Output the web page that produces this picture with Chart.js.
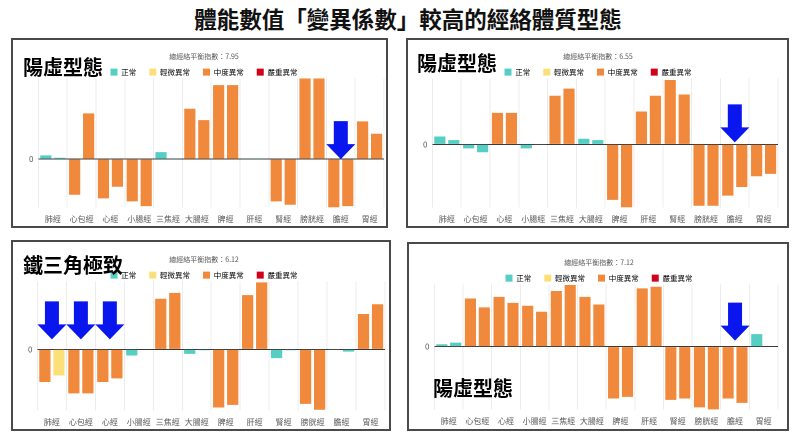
<!DOCTYPE html>
<html>
<head>
<meta charset="utf-8">
<script src="https://cdn.jsdelivr.net/npm/chart.js@4.4.1/dist/chart.umd.min.js"></script>
<style>
  body { margin: 0; width: 800px; height: 442px; background: #fff; position: relative; overflow: hidden;
         font-family: "Noto Sans CJK TC", "Noto Sans", sans-serif; }
  .heading { position: absolute; left: 0; width: 816px; top: 3px; text-align: center;
             font-size: 22.5px; font-weight: bold; color: #111; line-height: 30px; }
  .panel { position: absolute; border: 2px solid #4a4a4a; box-sizing: border-box; }
  .panel canvas { position: absolute; left: 0; top: 0; }
  .tag { position: absolute; font-size: 20px; font-weight: bold; color: #000; line-height: 24px; white-space: nowrap; }
</style>
</head>
<body>
<div class="heading">體能數值「變異係數」較高的經絡體質型態</div>

<div class="panel" style="left:11px;top:38px;width:377px;height:190px"><canvas id="c1"></canvas></div>
<div class="panel" style="left:406px;top:38px;width:383px;height:190px"><canvas id="c2"></canvas></div>
<div class="panel" style="left:11px;top:240px;width:380px;height:191px"><canvas id="c3"></canvas></div>
<div class="panel" style="left:407px;top:242px;width:382px;height:189px"><canvas id="c4"></canvas></div>

<div class="tag" style="left:23px;top:55px">陽虛型態</div>
<div class="tag" style="left:417px;top:51px">陽虛型態</div>
<div class="tag" style="left:23px;top:253px">鐵三角極致</div>
<div class="tag" style="left:433px;top:376px">陽虛型態</div>

<script>
// 經絡 (12 categories, each with left / right reading)
const meridians = ['肺經', '心包經', '心經', '小腸經', '三焦經', '大腸經', '脾經', '肝經', '腎經', '膀胱經', '膽經', '胃經'];
const statusNames = ['正常', '輕微異常', '中度異常', '嚴重異常'];
const statusColors = ['#55cec4', '#fbe07a', '#f0893b', '#d0021b'];

// top-left
const p1Index = '7.95';
const p1Left = [1.1, -10.7, -11.8, -12.7, 2.1, 15.1, 22.2, 0.2, -12.7, 24.2, -14.5, 11.3];
const p1Right = [0.4, 13.7, -8.3, -14.1, 0.2, 11.7, 22.2, 0.2, -13.7, 24.2, -14.1, 7.6];
const p1LeftStatus = [0, 2, 2, 2, 0, 2, 2, 0, 2, 2, 2, 2];
const p1RightStatus = [0, 2, 2, 2, 0, 2, 2, 0, 2, 2, 2, 2];
const p1Arrows = [10];

// top-right
const p2Index = '6.55';
const p2Left = [2.4, -1.2, 9.6, -1.2, 14.8, 1.7, -16.9, 10.0, 19.6, -18.7, -15.6, -9.7];
const p2Right = [1.3, -2.4, 9.6, -0.1, 17.0, 1.3, -19.2, 14.8, 15.2, -18.7, -13.0, -9.0];
const p2LeftStatus = [0, 0, 2, 0, 2, 0, 2, 2, 2, 2, 2, 2];
const p2RightStatus = [0, 0, 2, 0, 2, 0, 2, 2, 2, 2, 2, 2];
const p2Arrows = [10];

// bottom-left
const p3Index = '6.12';
const p3Left = [-10.0, -13.5, -10.0, -1.9, 15.5, -1.4, -17.8, 16.6, -2.7, -16.7, -0.2, 10.8];
const p3Right = [-8.0, -13.5, -8.9, 0, 17.3, -0.3, -17.0, 20.5, -0.3, -18.5, -0.7, 13.8];
const p3LeftStatus = [2, 2, 2, 0, 2, 0, 2, 2, 0, 2, 0, 2];
const p3RightStatus = [1, 2, 2, 0, 2, 0, 2, 2, 0, 2, 0, 2];
const p3Arrows = [0, 1, 2];

// bottom-right
const p4Index = '7.12';
const p4Left = [0.7, 14.6, 15.1, 12.4, 16.9, 15.1, -15.8, 17.7, -16.2, -18.5, -15.8, 3.8];
const p4Right = [1.2, 11.9, 13.3, 10.6, 18.7, 12.8, -15.3, 18.2, -15.8, -19.3, -17.1, 0];
const p4LeftStatus = [0, 2, 2, 2, 2, 2, 2, 2, 2, 2, 2, 0];
const p4RightStatus = [0, 2, 2, 2, 2, 2, 2, 2, 2, 2, 2, 0];
const p4Arrows = [10];

Chart.defaults.font.family = '"Noto Sans CJK TC", "Noto Sans", sans-serif';

// blue arrows pointing down at a meridian
const arrowPlugin = {
  id: 'arrows',
  afterDatasetsDraw(chart, args, opts) {
    const { ctx, scales: { x, y } } = chart;
    const zero = y.getPixelForValue(0);
    ctx.save();
    ctx.fillStyle = '#0a16ee';
    opts.at.forEach(i => {
      const cx = x.getPixelForValue(i);
      const tip = zero - opts.gap;
      const top = tip - opts.len;
      const neck = tip - 15;
      ctx.beginPath();
      ctx.moveTo(cx - 7, top);
      ctx.lineTo(cx + 7, top);
      ctx.lineTo(cx + 7, neck);
      ctx.lineTo(cx + 14.5, neck);
      ctx.lineTo(cx, tip);
      ctx.lineTo(cx - 14.5, neck);
      ctx.lineTo(cx - 7, neck);
      ctx.closePath();
      ctx.fill();
    });
    ctx.restore();
  },
};

// keep the wide legend spacing but pull it (and the plot) up under the title
const legendTrim = {
  id: 'legendTrim',
  beforeInit(chart) {
    const fit = chart.legend.fit;
    chart.legend.fit = function () {
      fit.call(this);
      this.height -= 16.5;
    };
  },
  afterLayout(chart) {
    chart.legend.top -= 9;
  },
};

const drawPanel = function (id, size, left, right, leftStatus, rightStatus, index, arrows, range, pad, gap) {
  const canvas = document.getElementById(id);
  canvas.style.width = size[0] + 'px';
  canvas.style.height = size[1] + 'px';

  return new Chart(canvas, {
    type: 'bar',
    data: {
      labels: meridians,
      datasets: [
        { label: 'L', data: left, backgroundColor: leftStatus.map(s => statusColors[s]) },
        { label: 'R', data: right, backgroundColor: rightStatus.map(s => statusColors[s]) },
      ],
    },
    plugins: [arrowPlugin, legendTrim],
    options: {
      responsive: false,
      animation: false,
      devicePixelRatio: 2,
      categoryPercentage: 0.97,
      barPercentage: 0.8,
      layout: { padding: pad },
      plugins: {
        title: {
          display: true,
          text: '總經絡平衡指數：' + index,
          color: '#555',
          font: { size: 7, weight: 'normal' },
          padding: { top: 0, bottom: 4 },
        },
        legend: {
          labels: {
            boxWidth: 7,
            boxHeight: 7,
            padding: 13,
            color: '#666',
            font: { size: 7.5 },
            generateLabels: () =>
              statusNames.map((name, i) => ({
                text: name,
                fillStyle: statusColors[i],
                strokeStyle: statusColors[i],
                lineWidth: 0,
                datasetIndex: i,
              })),
          },
          onClick: () => {},
        },
        tooltip: { enabled: false },
        arrows: { at: arrows, gap: gap, len: 38 },
      },
      scales: {
        x: {
          grid: { color: '#ececec', drawTicks: false },
          border: { display: false },
          ticks: { color: '#555', font: { size: 8 }, padding: 7, maxRotation: 0, autoSkip: false },
        },
        y: {
          min: range[0],
          max: range[1],
          afterBuildTicks: axis => { axis.ticks = [{ value: 0 }]; },
          grid: { color: '#3a3a3a', lineWidth: 1, drawTicks: false },
          border: { display: false },
          ticks: { color: '#555', font: { size: 8 }, padding: 5, callback: v => v },
        },
      },
    },
  });
};

drawPanel('c1', [373, 186], p1Left, p1Right, p1LeftStatus, p1RightStatus, p1Index, p1Arrows,
  [-14.5, 24.2], { left: 11, right: 2, top: 12, bottom: -5 }, 0);
drawPanel('c2', [379, 186], p2Left, p2Right, p2LeftStatus, p2RightStatus, p2Index, p2Arrows,
  [-19.2, 20.1], { left: 10, right: 9, top: 12, bottom: -5 }, 2);
drawPanel('c3', [376, 187], p3Left, p3Right, p3LeftStatus, p3RightStatus, p3Index, p3Arrows,
  [-18.7, 20.8], { left: 10, right: 4, top: 13, bottom: -5 }, 10);
drawPanel('c4', [378, 185], p4Left, p4Right, p4LeftStatus, p4RightStatus, p4Index, p4Arrows,
  [-19.1, 18.9], { left: 11, right: 9, top: 14, bottom: -4 }, 6);
</script>
</body>
</html>
